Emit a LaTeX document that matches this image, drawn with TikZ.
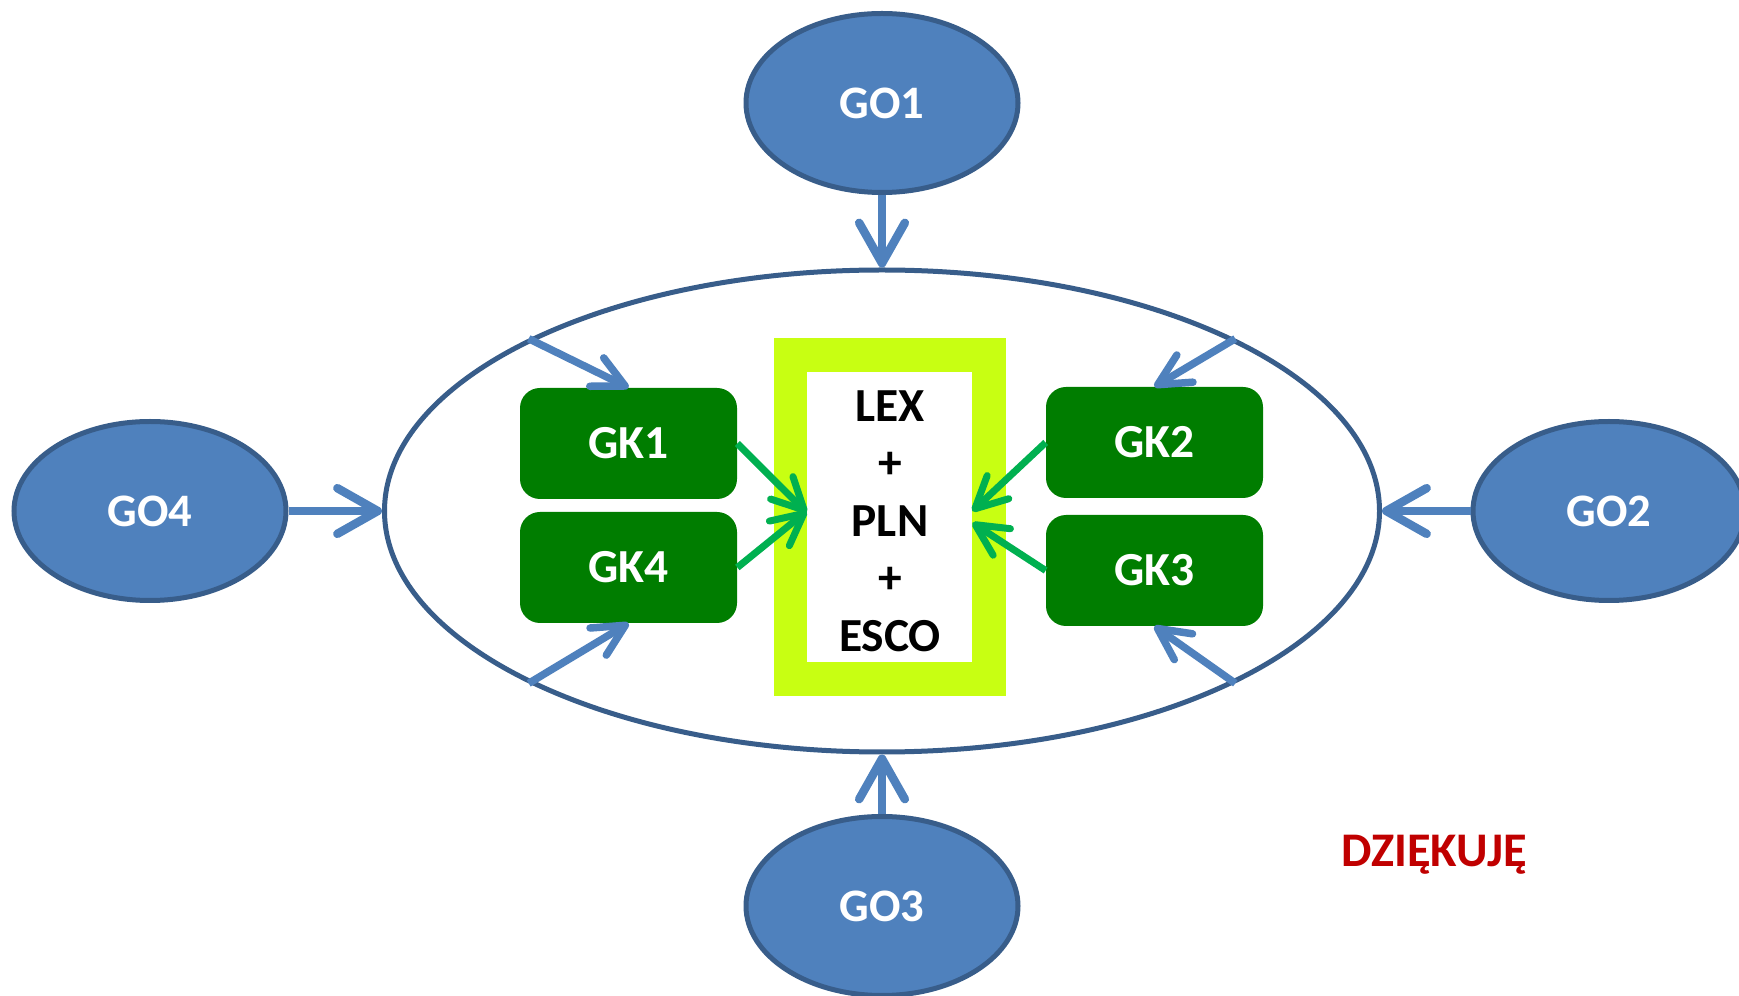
\documentclass[tikz,border=0pt]{standalone}
\usepackage{fontspec}
\setmainfont{Carlito}
\usetikzlibrary{arrows.meta,shapes.geometric}

% one drawing unit = one pixel of the 1739 x 996 canvas
\newlength\pxu
\setlength\pxu{0.02cm}

\definecolor{goFill}{RGB}{79,129,189}
\definecolor{goLine}{RGB}{56,93,138}
\definecolor{gkFill}{RGB}{0,125,0}
\definecolor{gkArrow}{RGB}{0,176,80}
\definecolor{frameLime}{RGB}{200,255,18}
\definecolor{thanksRed}{RGB}{192,0,0}

\tikzset{
  goNode/.style={ellipse, draw=goLine, fill=goFill, line width=5\pxu,
    minimum width=272\pxu, minimum height=179\pxu, inner sep=0pt,
    text=white, font=\fontsize{26.5}{30}\selectfont\bfseries},
  ring/.style={ellipse, draw=goLine, fill=white, line width=5\pxu,
    minimum width=995\pxu, minimum height=482\pxu, inner sep=0pt},
  gkBox/.style={rectangle, rounded corners=20\pxu, fill=gkFill,
    minimum width=217\pxu, minimum height=111\pxu, inner sep=0pt,
    text=white, font=\fontsize{27}{31}\selectfont\bfseries},
  limeFrame/.style={rectangle, fill=frameLime, minimum width=232\pxu,
    minimum height=358\pxu, inner sep=0pt},
  coreBox/.style={rectangle, fill=white, minimum width=165\pxu,
    minimum height=290\pxu, inner sep=0pt},
  coreText/.style={inner sep=0pt, align=center,
    font=\fontsize{27}{32.7}\selectfont\bfseries},
  outerArrow/.style={draw=goFill, line width=8.5\pxu,
    -{Straight Barb[length=23pt, width=26pt, round]}},
  innerArrow/.style={draw=goFill, line width=7.5\pxu,
    -{Straight Barb[length=18pt, width=18pt, round]}},
  greenArrow/.style={draw=gkArrow, line width=7\pxu,
    -{Straight Barb[length=18pt, width=18pt, round]}},
  thanks/.style={text=thanksRed, font=\fontsize{27.5}{31}\selectfont\bfseries,
    inner sep=0pt}
}

\begin{document}
\begin{tikzpicture}[x=1\pxu, y=-1\pxu]
  \useasboundingbox (0,0) rectangle (1739,996);
  \clip (0,0) rectangle (1739,996);

  % central domain
  \node[ring] (ring) at (882,511) {};

  % outer groups
  \node[goNode] (go1) at (882,103) {GO1};
  \node[goNode] (go2) at (1609,511) {GO2};
  \node[goNode] (go3) at (882,906) {GO3};
  \node[goNode] (go4) at (150,511) {GO4};

  \draw[outerArrow] (go1.south) -- (ring.north);
  \draw[outerArrow] (go2.west) -- (ring.east);
  \draw[outerArrow] (go3.north) -- (ring.south);
  \draw[outerArrow] (go4.east) -- (ring.west);

  % inner groups
  \node[gkBox] (gk1) at (628.5,443.5) {GK1};
  \node[gkBox] (gk4) at (628.5,567.5) {GK4};
  \node[gkBox] (gk2) at (1154.5,442.5) {GK2};
  \node[gkBox] (gk3) at (1154.5,570.5) {GK3};

  \draw[innerArrow] (ring.154) -- (gk1.north);
  \draw[innerArrow] (ring.206) -- (gk4.south);
  \draw[innerArrow] (ring.26) -- (gk2.north);
  \draw[innerArrow] (ring.334) -- (gk3.south);

  % core
  \node[limeFrame] (frame) at (890,517) {};
  \node[coreBox] (core) at (889.5,517) {};
  \node[coreText] (coreTxt) at (890,521) {LEX\\+\\PLN\\+\\ESCO};

  \draw[greenArrow] (gk1.east) -- (core.177);
  \draw[greenArrow] (gk4.east) -- (core.176);
  \draw[greenArrow] (gk2.west) -- (core.4);
  \draw[greenArrow] (gk3.west) -- (core.356);

  \node[thanks, anchor=base] (thx) at (1434,867) {DZIĘKUJĘ};
\end{tikzpicture}
\end{document}
